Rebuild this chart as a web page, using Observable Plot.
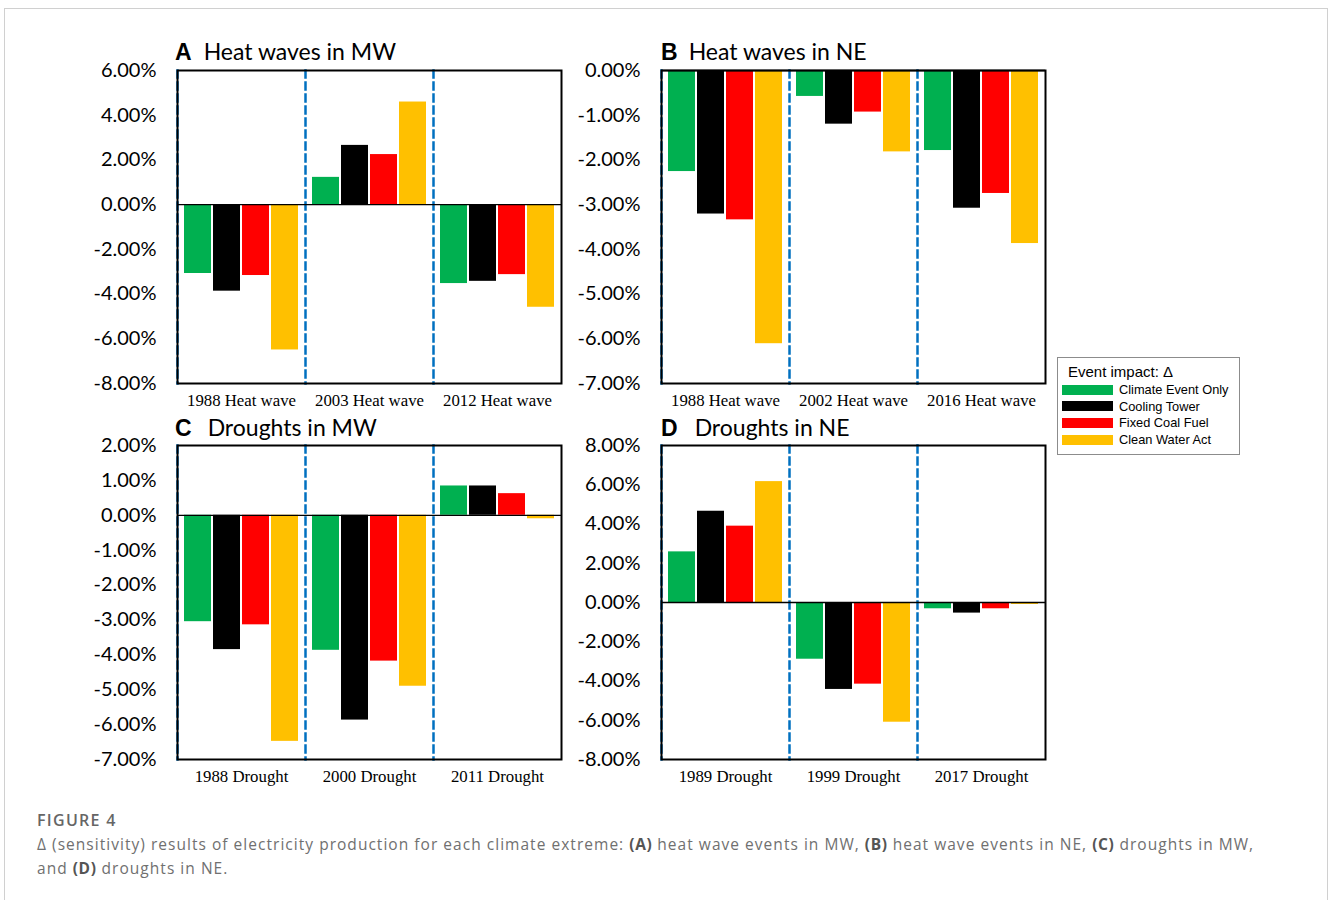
<!DOCTYPE html>
<html>
<head>
<meta charset="utf-8">
<script src="https://cdn.jsdelivr.net/npm/d3@7"></script>
<script src="https://cdn.jsdelivr.net/npm/@observablehq/plot@0.6"></script>
<style>
  html, body { margin: 0; padding: 0; background: #fff; width: 1328px; height: 900px; overflow: hidden; }
  .card { position: absolute; left: 4px; top: 8px; width: 1324px; height: 1000px; border: 1px solid #d0d0d0; box-sizing: border-box; }
  .panel { position: absolute; }
  .title { position: absolute; font-family: Lato, "Noto Sans", sans-serif; font-size: 23px; color: #000; white-space: nowrap; line-height: 1; }
  .title b { font-family: "Liberation Sans", Arial, sans-serif; font-weight: bold; font-size: 23px; }
  .legend { position: absolute; left: 1057px; top: 357px; width: 183px; height: 98px; border: 1.5px solid #8c8c8c; box-sizing: border-box; font-family: "Liberation Sans", Arial, sans-serif; color: #000; }
  .legend .head { position: absolute; left: 10px; top: 5px; font-size: 15px; }
  .legend .item { position: absolute; left: 4px; height: 16px; font-size: 12.8px; line-height: 16px; white-space: nowrap; }
  .legend .sw { display: inline-block; width: 51px; height: 10px; vertical-align: middle; margin-right: 6px; position: relative; top: -1px; }
  .figlabel { position: absolute; left: 37px; top: 809px; font-family: "Open Sans", "Noto Sans", sans-serif; font-size: 16px; letter-spacing: 1.3px; font-weight: 600; color: #666; }
  .caption { position: absolute; left: 37px; top: 832px; font-family: "Open Sans", "Noto Sans", sans-serif; font-size: 15.5px; letter-spacing: 1.03px; line-height: 24px; color: #707070; white-space: nowrap; }
  .caption b { color: #555; font-weight: 700; letter-spacing: 0.6px; }
</style>
</head>
<body>
<div class="card"></div>
<div id="pA" class="panel" style="left:90px;top:60px"></div>
<div id="pB" class="panel" style="left:570px;top:60px"></div>
<div id="pC" class="panel" style="left:90px;top:435px"></div>
<div id="pD" class="panel" style="left:570px;top:435px"></div>
<div class="title" style="left:175px;top:40px"><b>A</b><span style="margin-left:12px">Heat waves in MW</span></div>
<div class="title" style="left:661px;top:40px"><b>B</b><span style="margin-left:11px">Heat waves in NE</span></div>
<div class="title" style="left:175px;top:416px"><b>C</b><span style="margin-left:16px">Droughts in MW</span></div>
<div class="title" style="left:661px;top:416px"><b>D</b><span style="margin-left:17px">Droughts in NE</span></div>
<div class="legend" id="legend"><div class="head">Event impact: Δ</div></div>
<div class="figlabel">FIGURE 4</div>
<div class="caption">Δ (sensitivity) results of electricity production for each climate extreme: <b>(A)</b> heat wave events in MW, <b>(B)</b> heat wave events in NE, <b>(C)</b> droughts in MW,<br>and <b>(D)</b> droughts in NE.</div>
<script>
// ---- data ----
const series = ["Climate Event Only", "Cooling Tower", "Fixed Coal Fuel", "Clean Water Act"];
const seriesColors = ["#00B050", "#000000", "#FF0000", "#FFC000"];

const catsA = ["1988 Heat wave", "2003 Heat wave", "2012 Heat wave"];
const valuesA = [
  [-3.08, -3.87, -3.17, -6.50],
  [1.22, 2.65, 2.24, 4.59],
  [-3.53, -3.43, -3.13, -4.59]
];
const ticksA = [-8, -6, -4, -2, 0, 2, 4, 6];

const catsB = ["1988 Heat wave", "2002 Heat wave", "2016 Heat wave"];
const valuesB = [
  [-2.26, -3.21, -3.34, -6.11],
  [-0.58, -1.20, -0.93, -1.82],
  [-1.79, -3.08, -2.75, -3.87]
];
const ticksB = [-7, -6, -5, -4, -3, -2, -1, 0];

const catsC = ["1988 Drought", "2000 Drought", "2011 Drought"];
const valuesC = [
  [-3.05, -3.85, -3.14, -6.48],
  [-3.87, -5.87, -4.18, -4.90],
  [0.84, 0.84, 0.62, -0.10]
];
const ticksC = [-7, -6, -5, -4, -3, -2, -1, 0, 1, 2];

const catsD = ["1989 Drought", "1999 Drought", "2017 Drought"];
const valuesD = [
  [2.58, 4.65, 3.89, 6.16],
  [-2.89, -4.43, -4.16, -6.10],
  [-0.32, -0.54, -0.32, -0.10]
];
const ticksD = [-8, -6, -4, -2, 0, 2, 4, 6, 8];

// ---- build ----
function toRows(cats, values) {
  const rows = [];
  cats.forEach((c, i) => series.forEach((s, j) => rows.push({cat: c, series: s, value: values[i][j]})));
  return rows;
}

function panel(id, cats, values, ticks, opts) {
  const rows = toRows(cats, values);
  const chart = Plot.plot({
    width: opts.width,
    height: opts.height,
    marginLeft: opts.marginLeft,
    marginRight: 10,
    marginTop: 10,
    marginBottom: opts.marginBottom,
    style: {background: "transparent", color: "#000", overflow: "visible"},
    fx: {domain: cats, padding: 0, label: null, axis: null},
    x: {domain: series, axis: null, paddingInner: 0.08, paddingOuter: 0.23},
    y: {domain: [ticks[0], ticks[ticks.length - 1]], axis: null},
    color: {domain: series, range: seriesColors},
    marks: [
      Plot.axisY({ticks: ticks, tickSize: 0, tickPadding: 21, label: null,
        tickFormat: d => d.toFixed(2) + "%", fontSize: 20, fontFamily: "Lato, 'Noto Sans', sans-serif", fill: "#000"}),
      Plot.axisFx({anchor: "bottom", tickSize: 0, tickPadding: 11, label: null,
        fontSize: 16.8, fontFamily: "'Liberation Serif', 'DejaVu Serif', serif", fill: "#000"}),
      Plot.frame({anchor: "left", stroke: "#0070C0", strokeWidth: 2.5, strokeDasharray: "7,5", strokeOpacity: 1}),
      Plot.barY(rows, {fx: "cat", x: "series", y: "value", fill: "series"}),
      Plot.ruleY([0], {stroke: "#000", strokeWidth: 1.3}),
      Plot.frame({facet: "super", stroke: "#000", strokeWidth: 2, strokeOpacity: 1})
    ]
  });
  document.getElementById(id).appendChild(chart);
}

panel("pA", catsA, valuesA, ticksA, {width: 481, height: 358, marginLeft: 86, marginBottom: 35});
panel("pB", catsB, valuesB, ticksB, {width: 485, height: 358, marginLeft: 91, marginBottom: 35});
panel("pC", catsC, valuesC, ticksC, {width: 481, height: 359, marginLeft: 86, marginBottom: 35});
panel("pD", catsD, valuesD, ticksD, {width: 485, height: 359, marginLeft: 91, marginBottom: 35});

// legend
const lg = document.getElementById("legend");
series.forEach((s, i) => {
  const it = document.createElement("div");
  it.className = "item";
  it.style.top = (24 + i * 16.7) + "px";
  it.innerHTML = `<span class="sw" style="background:${seriesColors[i]}"></span>${s}`;
  lg.appendChild(it);
});
</script>
</body>
</html>
